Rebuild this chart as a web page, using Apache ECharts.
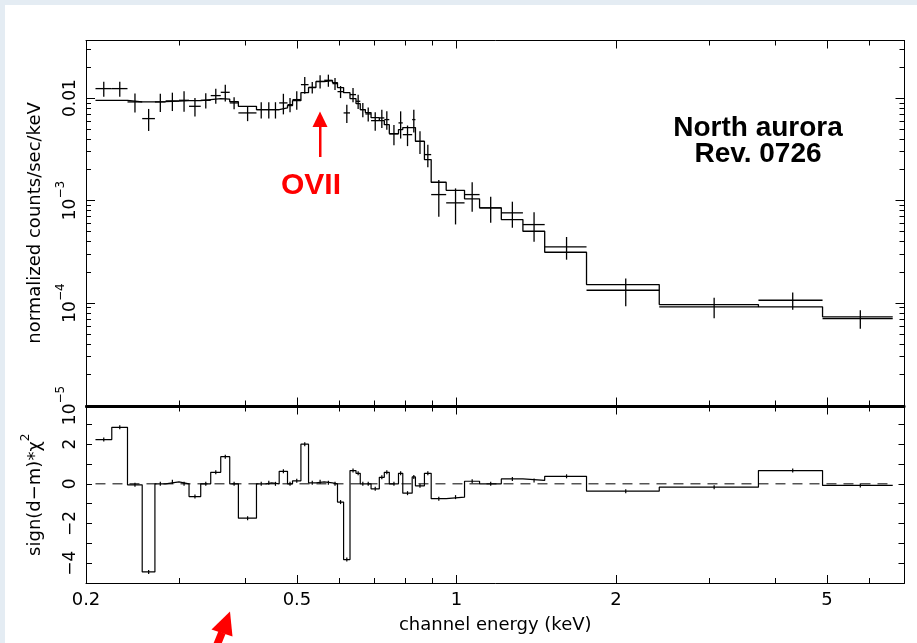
<!DOCTYPE html>
<html><head><meta charset="utf-8">
<script src="https://cdn.jsdelivr.net/npm/echarts@6/dist/echarts.min.js"></script>
<style>html,body{margin:0;padding:0;background:#fff;}#main{width:917px;height:643px;}</style>
</head><body><div id="main"></div>
<script>
// ---- data ----
const binEdges = [0.2084, 0.2237, 0.2395, 0.2553, 0.2698, 0.2826, 0.2995, 0.3129, 0.3292, 0.3438,
  0.3591, 0.3734, 0.3877, 0.4194, 0.4369, 0.4480, 0.4629, 0.4799, 0.4905, 0.5087,
  0.5258, 0.5430, 0.5628, 0.5835, 0.5963, 0.6123, 0.6296, 0.6462, 0.6583, 0.6730,
  0.6899, 0.7151, 0.7308, 0.7468, 0.7772, 0.7918, 0.8248, 0.8366, 0.8699, 0.8958,
  0.9561, 1.0354, 1.1053, 1.2148, 1.3343, 1.4667, 1.7589, 2.4124, 3.7115, 4.9034, 6.6514];
const modelRate = [0.00952, 0.00952, 0.00918, 0.00918, 0.00924, 0.00935, 0.00945, 0.00945, 0.00967, 0.00989,
  0.00978, 0.00924, 0.00832, 0.00772, 0.00772, 0.00772, 0.00802, 0.00845, 0.00945, 0.01131,
  0.01266, 0.01449, 0.01482, 0.01416, 0.01266, 0.01131, 0.00989, 0.00884, 0.00772, 0.00722,
  0.00645, 0.00603, 0.00551, 0.00451, 0.00493, 0.00516, 0.00516, 0.00379, 0.00251, 0.001509,
  0.00126, 0.001039, 0.000849, 0.000653, 0.000502, 0.000313, 0.0001515, 0.0000967, 0.0000918, 0.0000733];
const dataRate = [0.01238, 0.01238, 0.00918, 0.00631, 0.00918, 0.00939, 0.00952, 0.00832, 0.00952, 0.01058,
  0.01139, 0.00898, 0.00717, 0.00772, 0.00772, 0.00772, 0.00898, 0.00864, 0.00967, 0.01354,
  0.01275, 0.01458, 0.01492, 0.01385, 0.01157, 0.00717, 0.01082, 0.00931, 0.00772, 0.00701,
  0.00603, 0.00641, 0.00617, 0.00447, 0.00573, 0.00440, 0.00617, 0.00379, 0.00281, 0.001144,
  0.000950, 0.001144, 0.000849, 0.000759, 0.000583, 0.000353, 0.0001333, 0.0000918, 0.0001065, 0.0000706];
const dataErr = [0.00204, 0.00204, 0.00193, 0.00153, 0.00187, 0.00191, 0.00216, 0.00169, 0.00161, 0.00179,
  0.00214, 0.00121, 0.00121, 0.00140, 0.00140, 0.00140, 0.00204, 0.00136, 0.00197, 0.00254,
  0.00164, 0.00214, 0.00202, 0.00187, 0.00156, 0.00146, 0.00171, 0.00147, 0.00122, 0.00111,
  0.00123, 0.00130, 0.00126, 0.00101, 0.00170, 0.00100, 0.00154, 0.000946, 0.000701, 0.000448,
  0.000365, 0.000366, 0.000242, 0.000216, 0.000186, 0.0000881, 0.0000404, 0.0000208, 0.0000204, 0.0000144];
const residuals = [2.23, 2.85, -0.05, -4.44, 0, 0.1, 0, -0.64, 0, 0.58,
  1.37, 0, -1.73, 0, 0.05, 0, 0.63, 0, 0.15, 2.0,
  0.05, 0.1, 0.05, 0, -0.92, -3.82, 0.67, 0.53, 0, 0,
  -0.25, 0.33, 0.58, 0, 0.53, -0.47, 0.35, -0.1, 0.53, -0.75,
  -0.67, 0.13, 0, 0.25, 0.17, 0.38, -0.37, -0.17, 0.67, -0.08];
// tick labels / tick positions
const xLabelTicks = [0.2, 0.5, 1, 2, 5];
const xMinorTicks = [0.3, 0.4, 0.6, 0.7, 0.8, 0.9, 3, 4, 6];
const yLabelTicks = [1e-5, 1e-4, 1e-3, 1e-2];
const yMinorTicks = [2e-5, 3e-5, 4e-5, 5e-5, 6e-5, 7e-5, 8e-5, 9e-5,
  2e-4, 3e-4, 4e-4, 5e-4, 6e-4, 7e-4, 8e-4, 9e-4,
  2e-3, 3e-3, 4e-3, 5e-3, 6e-3, 7e-3, 8e-3, 9e-3, 0.02, 0.03];
const resTicks = [-4, -3, -2, -1, 0, 1, 2, 3];
const resLabelTicks = [-4, -2, 0, 2];

// ---- chart ----
const FONT = 'DejaVu Sans';
const X_MIN = 0.2, X_MAX = 7.0;
const Y_MIN = 1e-5, Y_MAX = 0.0365;
const R_MIN = -5, R_MAX = 3.9;
const chart = echarts.init(document.getElementById('main'), null, {renderer: 'canvas'});

const modelSteps = binEdges.map((e, i) => [e, modelRate[Math.min(i, modelRate.length - 1)]]);
const resSteps = binEdges.map((e, i) => [e, residuals[Math.min(i, residuals.length - 1)]]);
const crossData = dataRate.map((d, i) => [binEdges[i], binEdges[i + 1], d, dataErr[i]]);
const resMarks = residuals.map((r, i) => [binEdges[i], binEdges[i + 1], r]);

function xAxisDef(grid, pos, ticks, len, lineW, showLine, opts) {
  return Object.assign({
    type: 'log', gridIndex: grid, position: pos, min: X_MIN, max: X_MAX, logBase: 10,
    axisLine: {show: showLine, onZero: false, lineStyle: {color: '#000', width: lineW}},
    axisTick: {show: true, inside: true, length: len, customValues: ticks, lineStyle: {color: '#000', width: 1}},
    axisLabel: {show: false},
    splitLine: {show: false}, minorTick: {show: false}, minorSplitLine: {show: false}
  }, opts || {});
}
function yLogDef(pos, ticks, len, showLine, opts) {
  return Object.assign({
    type: 'log', gridIndex: 0, position: pos, min: Y_MIN, max: Y_MAX, logBase: 10,
    axisLine: {show: showLine, lineStyle: {color: '#000', width: 1}},
    axisTick: {show: true, inside: true, length: len, customValues: ticks, lineStyle: {color: '#000', width: 1}},
    axisLabel: {show: false},
    splitLine: {show: false}, minorTick: {show: false}
  }, opts || {});
}
function yResDef(pos, opts) {
  return Object.assign({
    type: 'value', gridIndex: 1, position: pos, min: R_MIN, max: R_MAX,
    axisLine: {show: true, onZero: false, lineStyle: {color: '#000', width: 1}},
    axisTick: {show: true, inside: true, length: 6, customValues: resTicks, lineStyle: {color: '#000', width: 1}},
    axisLabel: {show: false},
    splitLine: {show: false}
  }, opts || {});
}

const option = {
  animation: false,
  backgroundColor: '#ffffff',
  grid: [
    {left: 86, right: 12.5, top: 40.5, height: 365, outerBoundsMode: 'none', containLabel: false},
    {left: 86, right: 12.5, top: 406.5, height: 176.5, outerBoundsMode: 'none', containLabel: false}
  ],
  xAxis: [
    xAxisDef(0, 'bottom', xLabelTicks, 8, 2, true),
    xAxisDef(0, 'bottom', xMinorTicks, 5, 1, false),
    xAxisDef(0, 'top', xLabelTicks, 8, 1, true),
    xAxisDef(0, 'top', xMinorTicks, 5, 1, false),
    xAxisDef(1, 'bottom', xLabelTicks, 8, 1, true, {
      axisLabel: {show: true, customValues: xLabelTicks, margin: 8, color: '#000',
        fontFamily: FONT, fontSize: 18, formatter: v => String(+v.toPrecision(3))},
      name: 'channel energy (keV)', nameLocation: 'middle', nameGap: 33,
      nameTextStyle: {color: '#000', fontFamily: FONT, fontSize: 18}
    }),
    xAxisDef(1, 'bottom', xMinorTicks, 5, 1, false),
    xAxisDef(1, 'top', xLabelTicks, 8, 2, true),
    xAxisDef(1, 'top', xMinorTicks, 5, 1, false)
  ],
  yAxis: [
    yLogDef('left', yLabelTicks, 9, true, {
      axisLabel: {show: true, customValues: yLabelTicks, rotate: 90, margin: 7, color: '#000',
        fontFamily: FONT, fontSize: 17,
        formatter: v => {
          const e = Math.round(Math.log10(v));
          if (e === -2) return '{b|0.01}';
          return '{b|10}{s|\u2212' + (-e) + '}';
        },
        rich: {
          b: {fontFamily: FONT, fontSize: 17, color: '#000', lineHeight: 24, verticalAlign: 'bottom'},
          s: {fontFamily: FONT, fontSize: 12, color: '#000', verticalAlign: 'top'}
        }
      },
      name: 'normalized counts/sec/keV', nameLocation: 'middle', nameGap: 42, nameRotate: 90,
      nameTextStyle: {color: '#000', fontFamily: FONT, fontSize: 18}
    }),
    yLogDef('left', yMinorTicks, 5, false),
    yLogDef('right', yLabelTicks, 9, true),
    yLogDef('right', yMinorTicks, 5, false),
    yResDef('left', {
      axisLabel: {show: true, customValues: resLabelTicks, rotate: 90, margin: 7, color: '#000',
        fontFamily: FONT, fontSize: 17, formatter: v => String(v).replace('-', '\u2212')},
      name: '{n|sign(d\u2212m)*\u03c7}{s|2}', nameLocation: 'middle', nameGap: 42, nameRotate: 90,
      nameTextStyle: {color: '#000', fontFamily: FONT, fontSize: 18,
        rich: {
          n: {fontFamily: FONT, fontSize: 18, color: '#000', lineHeight: 24, verticalAlign: 'bottom'},
          s: {fontFamily: FONT, fontSize: 12, color: '#000', verticalAlign: 'top'}
        }}
    }),
    yResDef('right')
  ],
  series: [
    {
      name: 'model', type: 'line', xAxisIndex: 0, yAxisIndex: 0, step: 'end',
      data: modelSteps, showSymbol: false, symbol: 'none',
      lineStyle: {color: '#000', width: 1.3}, z: 3
    },
    {
      name: 'data', type: 'custom', xAxisIndex: 0, yAxisIndex: 0,
      encode: {x: [0, 1], y: [2]},
      data: crossData, z: 4,
      renderItem: (params, api) => {
        const lo = api.value(0), hi = api.value(1), y = api.value(2), err = api.value(3);
        const a = api.coord([lo, y]), b = api.coord([hi, y]);
        const xc = (lo + hi) / 2;
        const t = api.coord([xc, y + err]), bt = api.coord([xc, Math.max(y - err, Y_MIN)]);
        const st = {stroke: '#000', lineWidth: 1.3};
        return {type: 'group', children: [
          {type: 'line', shape: {x1: a[0], y1: a[1], x2: b[0], y2: b[1]}, style: st},
          {type: 'line', shape: {x1: t[0], y1: t[1], x2: bt[0], y2: bt[1]}, style: st}
        ]};
      }
    },
    {
      name: 'zero', type: 'line', xAxisIndex: 4, yAxisIndex: 4,
      data: [[binEdges[0], 0], [binEdges[binEdges.length - 1], 0]],
      showSymbol: false, symbol: 'none',
      lineStyle: {color: '#000', width: 1, type: [10, 7]}, z: 2
    },
    {
      name: 'residuals', type: 'line', xAxisIndex: 4, yAxisIndex: 4, step: 'end',
      data: resSteps, showSymbol: false, symbol: 'none',
      lineStyle: {color: '#000', width: 1.2}, z: 3
    },
    {
      name: 'resmarks', type: 'custom', xAxisIndex: 4, yAxisIndex: 4,
      encode: {x: [0, 1], y: [2]}, data: resMarks, z: 4,
      renderItem: (params, api) => {
        const xc = (api.value(0) + api.value(1)) / 2;
        const p = api.coord([xc, api.value(2)]);
        return {type: 'line', shape: {x1: p[0], y1: p[1] - 2, x2: p[0], y2: p[1] + 2},
          style: {stroke: '#000', lineWidth: 1.2}};
      }
    }
  ],
  graphic: [
    {type: 'rect', z: -10, silent: true, shape: {x: 0, y: 0, width: 917, height: 5}, style: {fill: '#e4ecf3'}},
    {type: 'rect', z: -10, silent: true, shape: {x: 0, y: 0, width: 5, height: 643}, style: {fill: '#e4ecf3'}},
    {type: 'text', x: 758, y: 128, style: {text: 'North aurora', font: 'bold 28px "Liberation Sans"',
      fill: '#000', textAlign: 'center', textVerticalAlign: 'middle'}},
    {type: 'text', x: 758, y: 154, style: {text: 'Rev. 0726', font: 'bold 28px "Liberation Sans"',
      fill: '#000', textAlign: 'center', textVerticalAlign: 'middle'}},
    {type: 'text', x: 311, y: 186, style: {text: 'OVII', font: 'bold 30px "Liberation Sans"',
      fill: '#ff0000', textAlign: 'center', textVerticalAlign: 'middle'}},
    {type: 'polygon', shape: {points: [[320, 111.5], [312.5, 127], [327.5, 127]]}, style: {fill: '#ff0000'}},
    {type: 'rect', shape: {x: 319, y: 126, width: 2.5, height: 31}, style: {fill: '#ff0000'}},
    {type: 'polygon', shape: {points: [[230, 611.5], [211.5, 629.5], [232.5, 636.5]]}, style: {fill: '#ff0000'}},
    {type: 'polygon', shape: {points: [[218.5, 631], [225.5, 634], [219, 650], [212, 647]]}, style: {fill: '#ff0000'}}
  ]
};
chart.setOption(option);
</script>
</body></html>
